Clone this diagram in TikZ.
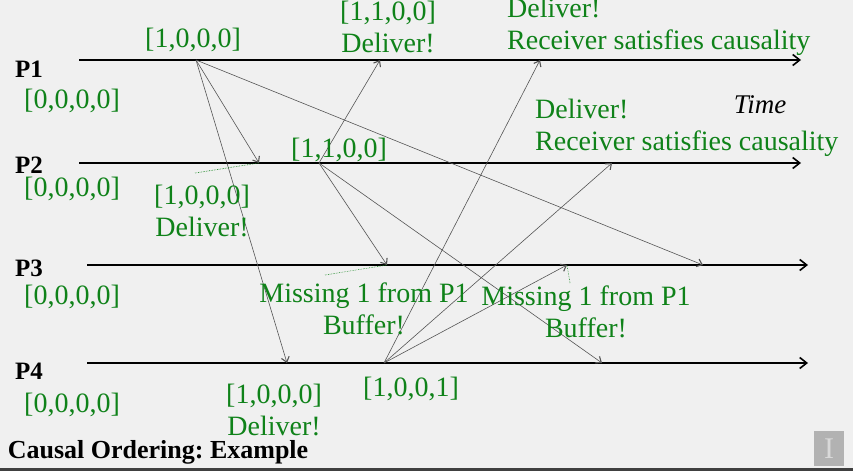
\documentclass[tikz,border=0pt]{standalone}
\usepackage{fontspec}
\setmainfont{Liberation Serif}
\frenchspacing
\usetikzlibrary{arrows.meta,calc}
\definecolor{dgreen}{RGB}{15,130,25}
\definecolor{msg}{RGB}{85,85,85}
\definecolor{bgray}{RGB}{240,240,240}

\begin{document}
\begin{tikzpicture}[x=1pt,y=-1pt,
    proc/.style={font=\bfseries\fontsize{25}{30}\selectfont, inner sep=0},
    vc/.style={text=dgreen, font=\fontsize{28}{32}\selectfont, inner sep=0, align=center},
    timeline/.style={-{Straight Barb[length=7pt,width=11pt,line width=1.6pt]}, line width=1.6pt},
    msgarrow/.style={-{Straight Barb[length=5pt,width=8pt,line width=1.1pt]}, draw=msg, line width=0.6pt},
    note/.style={draw=dgreen, densely dotted, line width=0.6pt}]
      \fill[bgray] (0,0) rectangle (853,471);
      \useasboundingbox (0,0) rectangle (853,471);
      \fill[black!75] (0,468) rectangle (853,471);

      % processes and their time lines
      \node[proc] (p1) at (29,69) {P1};
      \node[proc] (p2) at (29,165) {P2};
      \node[proc] (p3) at (29,268) {P3};
      \node[proc] (p4) at (29,371) {P4};
      \coordinate (a1) at (79,60);  \coordinate (b1) at (801,60);
      \coordinate (a2) at (79,163); \coordinate (b2) at (801,163);
      \coordinate (a3) at (87,265); \coordinate (b3) at (808,265);
      \coordinate (a4) at (87,363); \coordinate (b4) at (808,363);
      \draw[timeline] (a1) -- (b1);
      \draw[timeline] (a2) -- (b2);
      \draw[timeline] (a3) -- (b3);
      \draw[timeline] (a4) -- (b4);
      \node[vc] (v1) at (72,101) {[0,0,0,0]};
      \node[vc] (v2) at (72,189) {[0,0,0,0]};
      \node[vc] (v3) at (72,297) {[0,0,0,0]};
      \node[vc] (v4) at (72,405) {[0,0,0,0]};
      \node[font=\itshape\fontsize{27}{32}\selectfont, inner sep=0] (time) at (760,105) {Time};

      % send and receive events
      \coordinate (s1) at (196,60);
      \coordinate (s2) at (319,163);
      \coordinate (s4) at (384,363);
      \coordinate (r12) at (259,163);
      \coordinate (r13) at (703,265);
      \coordinate (r14) at (287,363);
      \coordinate (r21) at (380,60);
      \coordinate (r23) at (387,265);
      \coordinate (r24) at (602,363);
      \coordinate (r41) at (540,60);
      \coordinate (r42) at (612,163);
      \coordinate (r43) at (567,265);

      % messages
      \draw[msgarrow] (s1) -- (r12);
      \draw[msgarrow] (s1) -- (r14);
      \draw[msgarrow] (s1) -- (r13);
      \draw[msgarrow] (s2) -- (r21);
      \draw[msgarrow] (s2) -- (r23);
      \draw[msgarrow] (s2) -- (r24);
      \draw[msgarrow] (s4) -- (r41);
      \draw[msgarrow] (s4) -- (r42);
      \draw[msgarrow] (s4) -- (r43);

      % vector timestamps
      \node[vc] (t1) at (193,40) {[1,0,0,0]};
      \node[vc] (t2) at (339,150) {[1,1,0,0]};
      \node[vc] (t4) at (411,389) {[1,0,0,1]};
      \node[vc] (d21) at (388,27) {[1,1,0,0]\\Deliver!};
      \node[vc] (d12) at (202,211) {[1,0,0,0]\\Deliver!};
      \node[vc] (d14) at (274,410) {[1,0,0,0]\\Deliver!};
      \node[vc, align=left, anchor=west] (d41) at (507,27) {Deliver!\\Receiver satisfies causality};
      \node[vc, align=left, anchor=west] (d42) at (535,128) {Deliver!\\Receiver satisfies causality};
      \node[vc] (m23) at (364,309) {Missing 1 from P1\\Buffer!};
      \node[vc] (m43) at (586,312) {Missing 1 from P1\\Buffer!};

      % dotted pointers
      \coordinate (n12) at (195,173);
      \coordinate (n23) at (325,275);
      \coordinate (n43) at (570,283);
      \draw[note] (n12) -- (r12);
      \draw[note] (n23) -- (r23);
      \draw[note] (n43) -- (r43);

      \node[font=\bfseries\fontsize{26}{30}\selectfont, inner sep=0] (title) at (158,452) {Causal Ordering: Example};
      \fill[black!30] (814,431) rectangle (844,466);
      \node[text=black!15, font=\fontsize{30}{30}\selectfont, inner sep=0] (logo) at (829,449) {I};
    \end{tikzpicture}
\end{document}
